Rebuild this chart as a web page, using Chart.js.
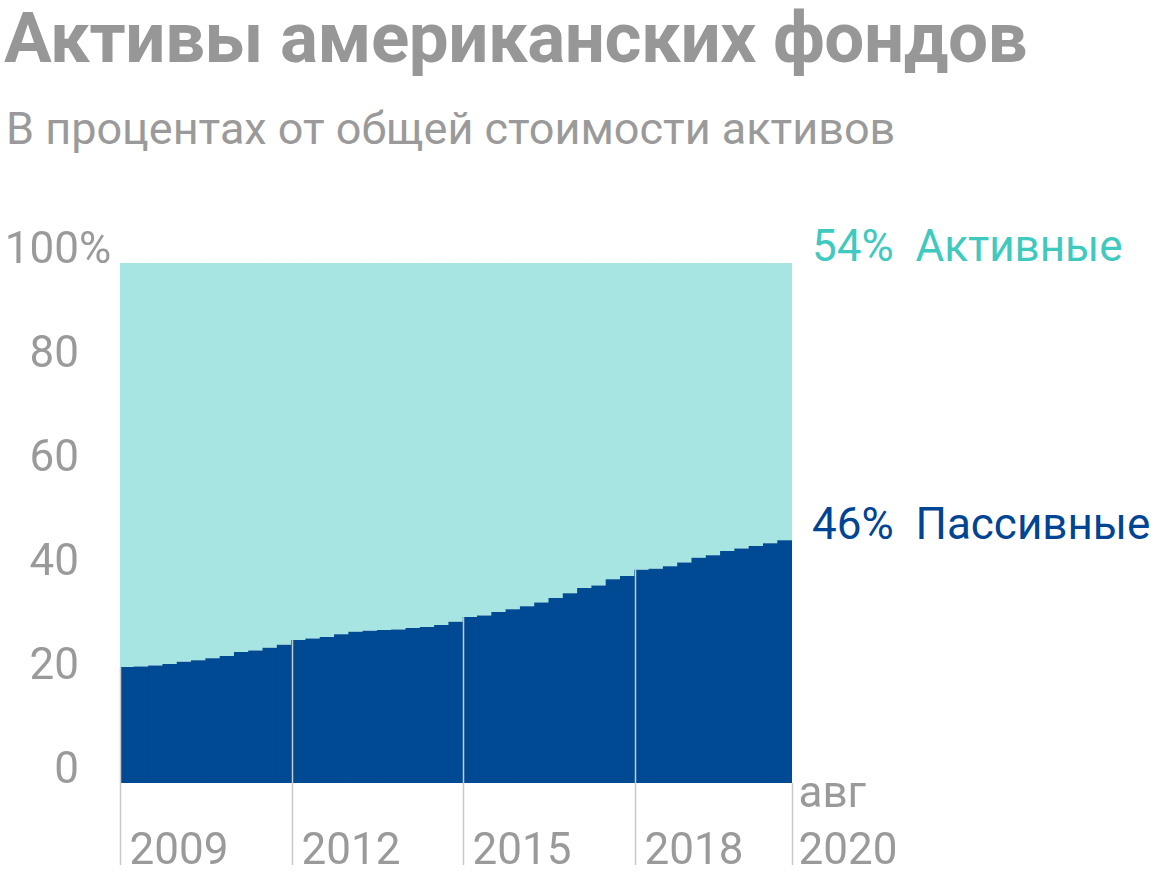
<!DOCTYPE html>
<html><head><meta charset="utf-8">
<script src="https://cdn.jsdelivr.net/npm/chart.js@4"></script>
<style>
body{margin:0;width:1160px;height:880px;background:#fff;font-family:Roboto,sans-serif;position:relative;overflow:hidden}
.t{position:absolute;white-space:nowrap}
#title{left:4px;top:-4px;font-size:71px;font-weight:bold;color:#979797;letter-spacing:-0.5px}
#sub{left:6px;top:102px;font-size:45px;color:#9a9a9a}
#act{left:812px;top:220px;font-size:44px;color:#3fc9bf}
#pas{left:812px;top:498px;font-size:44px;color:#004494}
canvas{position:absolute;left:0;top:0}
</style></head><body>
<div class="t" id="title">Активы американских фондов</div>
<div class="t" id="sub">В процентах от общей стоимости активов</div>
<div class="t" id="act">54%&nbsp; Активные</div>
<div class="t" id="pas">46%&nbsp; Пассивные</div>
<canvas id="c" width="1160" height="880"></canvas>
<script>
// quarters, Q1 2009 .. Q3 2020
const quarters = [];
for (let y = 2009; y <= 2020; y++) for (let q = 1; q <= 4; q++) if (!(y === 2020 && q === 4)) quarters.push(y + ' Q' + q);
// passive share, %
const passive = [22.3,22.4,22.6,22.9,23.3,23.6,24.0,24.4,25.2,25.5,26.0,26.6,27.5,27.8,28.1,28.6,29.1,29.3,29.4,29.5,29.8,30.0,30.4,31.0,31.9,32.2,32.9,33.4,34.0,34.7,35.6,36.5,37.5,38.0,39.2,39.8,41.0,41.2,41.7,42.4,43.3,43.8,44.6,45.1,45.6,46.1,46.7];
const active = passive.map(v => 100 - v);
const yTicks = [0, 20, 40, 60, 80, 100];
const yearMarks = ['2009', '2012', '2015', '2018'];

const decor = {
  id: 'decor',
  afterDatasetsDraw(chart) {
    const ctx = chart.ctx, x = chart.scales.x, y = chart.scales.y, a = chart.chartArea;
    const half = (x.getPixelForValue(1) - x.getPixelForValue(0)) / 2;
    ctx.save();
    ctx.strokeStyle = '#c9c9c9'; ctx.lineWidth = 1.5;
    ctx.fillStyle = '#9a9a9a'; ctx.font = '44px Roboto'; ctx.textBaseline = 'alphabetic';
    yearMarks.forEach(yr => {
      const i = quarters.indexOf(yr + ' Q1');
      const px = Math.round(x.getPixelForValue(i) - half) + 0.5;
      ctx.beginPath(); ctx.moveTo(px, y.getPixelForValue(passive[i])); ctx.lineTo(px, 865); ctx.stroke();
      ctx.textAlign = 'left'; ctx.fillText(yr, px + 9, 864);
    });
    const ex = a.right - 0.5;
    ctx.beginPath(); ctx.moveTo(ex + 1, a.bottom); ctx.lineTo(ex + 1, 865); ctx.stroke();
    ctx.fillText('авг', ex + 7, 807);
    ctx.fillText('2020', ex + 7, 864);
    yTicks.forEach(t => {
      const py = y.getPixelForValue(t);
      ctx.textAlign = 'right';
      ctx.fillText(String(t), 79, py);
      if (t === 100) { ctx.textAlign = 'left'; ctx.fillText('%', 79, py); }
    });
    ctx.restore();
  }
};

new Chart(document.getElementById('c'), {
  type: 'bar',
  data: {
    labels: quarters,
    datasets: [
      { label: 'Пассивные', data: passive, backgroundColor: '#004a93', borderWidth: 0 },
      { label: 'Активные', data: active, backgroundColor: '#a6e5e1', borderWidth: 0 }
    ]
  },
  options: {
    responsive: false, animation: false,
    layout: { padding: { left: 120, right: 368, top: 263, bottom: 97 } },
    datasets: { bar: { barPercentage: 1.06, categoryPercentage: 1 } },
    plugins: { legend: { display: false }, tooltip: { enabled: false } },
    scales: {
      x: { stacked: true, display: false },
      y: { stacked: true, display: false, min: 0, max: 100 }
    }
  },
  plugins: [decor]
});
</script>
</body></html>
